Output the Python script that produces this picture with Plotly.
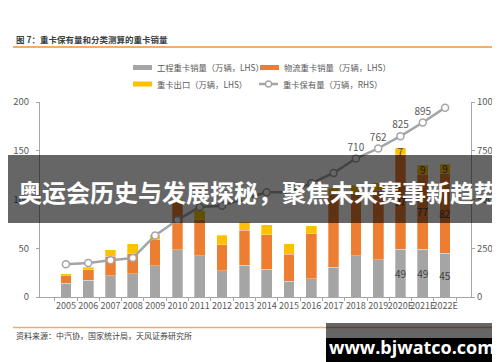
import plotly.graph_objects as go

years = ["2005", "2006", "2007", "2008", "2009", "2010", "2011", "2012", "2013",
         "2014", "2015", "2016", "2017", "2018", "2019", "2020E", "2021E", "2022E"]
engineering = [14, 17, 22, 23.6, 32, 48.5, 42.4, 27, 32.5, 28.7, 16.1, 18.5, 30.4, 42.4, 38.3, 49, 49, 45]
logistics = [8.3, 11, 19.8, 21.5, 26.7, 48, 37, 26.7, 36.2, 35.2, 28, 46.5, 75, 64, 71, 97, 77, 82]
exports = [1.5, 2.7, 6.8, 9.3, 5.1, 3.5, 9, 9.5, 8.2, 10.3, 10.3, 8.1, 6, 8, 8, 7, 9, 9]
ownership = [168, 174, 188, 200, 316, 395, 462, 468, 505, 537, 537, 583, 636, 710, 762, 825, 895, 971]

names = ["工程重卡销量（万辆，LHS）", "物流重卡销量（万辆，LHS）",
         "重卡出口（万辆，LHS）", "重卡保有量（万辆，RHS）"]
title_text = "图 7：重卡保有量和分类测算的重卡销量"
source_text = "资料来源：中汽协，国家统计局，天风证券研究所"
banner_text = "奥运会历史与发展探秘，聚焦未来赛事新趋势"
mark_text = "www.bjwatco.com"

GRAY = "#A5A5A5"
ORANGE = "#ED7D31"
YELLOW = "#FFC000"
TXT = "#595959"
FONT = "Noto Sans CJK SC, Noto Sans, sans-serif"

W, H = 500, 362
ML, MR, MT, MB = 32, 37, 94, 73
PW, PH = W - ML - MR, H - MT - MB


def px(x):
    return (x - ML) / PW


def py(y):
    return (H - MB - y) / PH


LABEL_FROM = 15


def bar_labels(vals):
    return [f"{v:g}" if i >= LABEL_FROM else "" for i, v in enumerate(vals)]


fig = go.Figure()
for vals, col, nm in [(engineering, GRAY, names[0]), (logistics, ORANGE, names[1]), (exports, YELLOW, names[2])]:
    fig.add_trace(go.Bar(
        x=years, y=vals, marker=dict(color=col, line=dict(color="rgba(255,255,255,0.6)", width=0.5)),
        text=bar_labels(vals), textposition="inside", insidetextanchor="middle", textangle=0,
        textfont=dict(color="#404040", size=10, family=FONT),
        showlegend=False, yaxis="y", name=nm))

line_labels = [f"{v}" if i >= 13 else "" for i, v in enumerate(ownership)]
fig.add_trace(go.Scatter(
    x=years, y=ownership, yaxis="y2", mode="lines+markers+text",
    line=dict(color=GRAY, width=2.5),
    marker=dict(symbol="circle", size=7, color="white", line=dict(color=GRAY, width=1.5)),
    text=line_labels, textposition="top center",
    textfont=dict(color=TXT, size=10, family=FONT),
    showlegend=False, name=names[3]))

# ---- legend (drawn as shapes + text) ----
leg_rows = [(59.5, 125, GRAY, names[0], "bar"), (59.5, 252, ORANGE, names[1], "bar"),
            (76, 125, YELLOW, names[2], "bar"), (76, 251, GRAY, names[3], "line")]
shapes = []
annotations = []
for yy, xx, col, nm, kind in leg_rows:
    if kind == "bar":
        shapes.append(dict(type="rect", xref="paper", yref="paper", x0=px(xx), x1=px(xx + 19),
                           y0=py(yy + 2.5), y1=py(yy - 2.5), fillcolor=col, line=dict(width=0)))
    else:
        shapes.append(dict(type="line", xref="paper", yref="paper", x0=px(xx), x1=px(xx + 19),
                           y0=py(yy), y1=py(yy), line=dict(color=col, width=2.5)))
        shapes.append(dict(type="circle", xref="paper", yref="paper", x0=px(xx + 6.5), x1=px(xx + 12.5),
                           y0=py(yy + 3), y1=py(yy - 3), fillcolor="white", line=dict(color=col, width=1.3)))
    annotations.append(dict(text=nm, xref="paper", yref="paper", x=px(xx + 22), y=py(yy),
                            xanchor="left", yanchor="middle", showarrow=False,
                            font=dict(size=8.3, color=TXT, family=FONT)))

shapes += [
    dict(type="line", xref="paper", yref="paper", x0=px(5), x1=px(495), y0=py(39), y1=py(39),
         line=dict(color="#F0913C", width=1.5)),
    dict(type="line", xref="paper", yref="paper", x0=px(5), x1=px(495), y0=py(319.5), y1=py(319.5),
         line=dict(color="#F5A86A", width=1.5)),
    dict(type="rect", xref="paper", yref="paper", x0=px(-2), x1=px(502), y0=py(215), y1=py(147),
         fillcolor="rgba(0,0,0,0.6)", line=dict(width=0), layer="above"),
    dict(type="rect", xref="paper", yref="paper", x0=px(318), x1=px(491), y0=py(330), y1=py(315),
         fillcolor="rgba(0,0,0,0.6)", line=dict(width=0), layer="above"),
    dict(type="rect", xref="paper", yref="paper", x0=px(318), x1=px(491), y0=py(363), y1=py(330),
         fillcolor="black", line=dict(width=0), layer="above"),
]

annotations += [
    dict(text="<b>" + title_text + "</b>", xref="paper", yref="paper", x=px(6), y=py(31),
         xanchor="left", yanchor="middle", showarrow=False, font=dict(size=8.5, color="#404040", family=FONT)),
    dict(text=source_text, xref="paper", yref="paper", x=px(6), y=py(327.5),
         xanchor="left", yanchor="middle", showarrow=False, font=dict(size=8, color="#404040", family=FONT)),
    dict(text="<b>" + banner_text + "</b>", xref="paper", yref="paper", x=px(250), y=py(183),
         xanchor="center", yanchor="middle", showarrow=False, font=dict(size=24, color="white", family=FONT)),
    dict(text="<b>" + mark_text + "</b>", xref="paper", yref="paper", x=px(404), y=py(339),
         xanchor="center", yanchor="middle", showarrow=False, font=dict(size=18, color="white", family="Open Sans, DejaVu Sans, sans-serif")),
]

fig.update_layout(
    width=W, height=H, margin=dict(l=ML, r=MR, t=MT, b=MB, autoexpand=False),
    paper_bgcolor="white", plot_bgcolor="white",
    barmode="stack", bargap=0.52, showlegend=False,
    font=dict(family=FONT, color=TXT, size=10),
    uniformtext=dict(minsize=10, mode="show"),
    xaxis=dict(type="category", showgrid=False, showline=True, linecolor="#A6A6A6", linewidth=1,
               ticks="outside", tickson="boundaries", ticklen=3, tickcolor="#A6A6A6",
               tickangle=0, tickfont=dict(size=9, color=TXT), zeroline=False),
    yaxis=dict(range=[0, 200], tickvals=[0, 50, 100, 150, 200], showgrid=False, showline=True,
               linecolor="#A6A6A6", linewidth=1, ticks="outside", ticklen=3, tickcolor="#A6A6A6",
               tickfont=dict(size=9.5, color=TXT), zeroline=False, ticklabelstandoff=5),
    yaxis2=dict(range=[0, 1000], tickvals=[0, 250, 500, 750, 1000], overlaying="y", side="right",
                showgrid=False, showline=True, linecolor="#A6A6A6", linewidth=1, ticks="outside",
                ticklen=3, tickcolor="#A6A6A6", tickfont=dict(size=9.5, color=TXT), zeroline=False),
    shapes=shapes, annotations=annotations,
)

fig.write_html("out.html")
